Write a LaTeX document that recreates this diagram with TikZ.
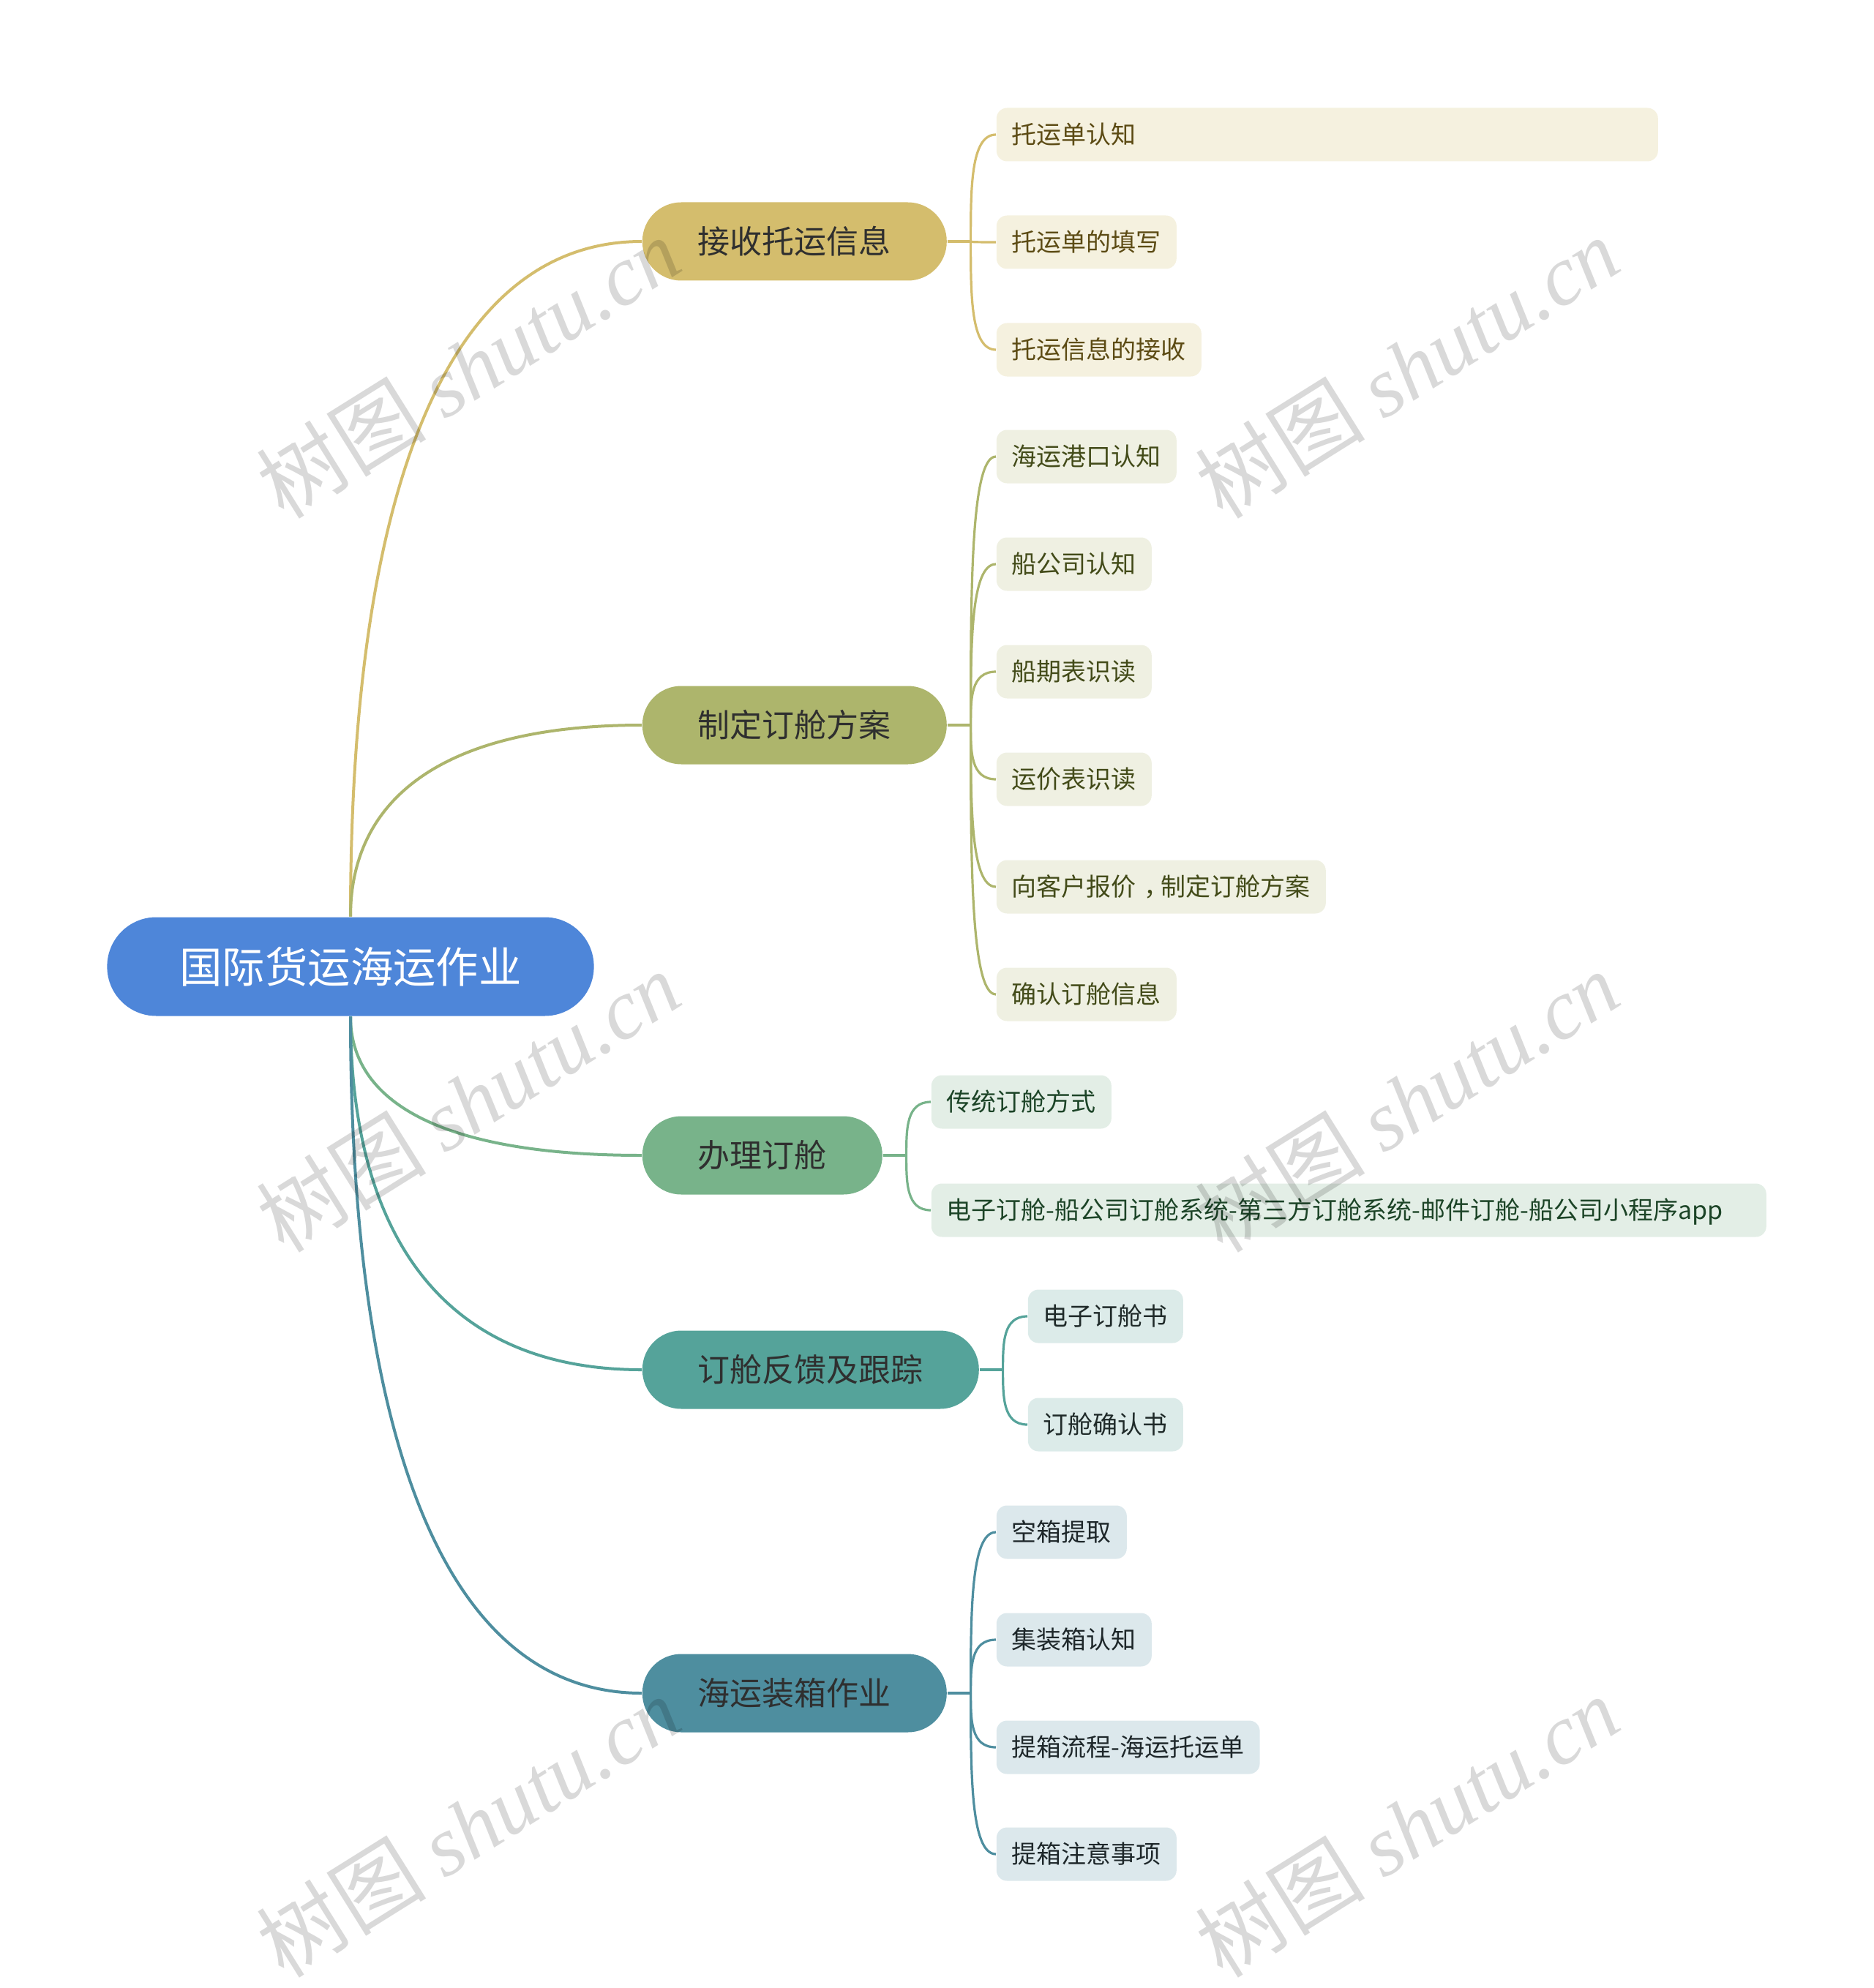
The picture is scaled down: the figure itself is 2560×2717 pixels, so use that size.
\documentclass[tikz,border=0pt]{standalone}
\usepackage{fontspec}
\setmainfont{Noto Sans CJK SC}
\newfontfamily\wmfont{Liberation Serif}
\usetikzlibrary{calc,backgrounds}
\definecolor{rootc}{HTML}{4E86D9}
\definecolor{c1}{HTML}{D4BD6D}
\definecolor{c2}{HTML}{ADB56C}
\definecolor{c3}{HTML}{78B38A}
\definecolor{c4}{HTML}{55A39A}
\definecolor{c5}{HTML}{4E8E9F}
\definecolor{f1}{HTML}{F5F1DF}
\definecolor{f2}{HTML}{EFF0E2}
\definecolor{f3}{HTML}{E3EEE6}
\definecolor{f4}{HTML}{DCEBE9}
\definecolor{f5}{HTML}{DCE8EC}
\definecolor{t1}{HTML}{5C4B14}
\definecolor{t2}{HTML}{434B19}
\definecolor{t3}{HTML}{1C4427}
\definecolor{t4}{HTML}{1F2A29}
\definecolor{t5}{HTML}{1E272A}
\definecolor{maintext}{HTML}{2F2F2F}
\begin{document}
\begin{tikzpicture}[x=0.25pt,y=-0.25pt,
  rootnode/.style={fill=rootc, text=white, rounded corners=16.8pt, minimum height=33.75pt,
    inner xsep=24.75pt, inner ysep=0pt, font=\fontsize{14.6pt}{14.6pt}\selectfont,
    text height=12.85pt, text depth=1.75pt},
  mainnode/.style={rounded corners=13.3pt, minimum height=26.75pt, inner xsep=19pt, inner ysep=0pt,
    font=\fontsize{11pt}{11pt}\selectfont, text=maintext, text height=9.68pt, text depth=1.32pt, anchor=west},
  leafnode/.style={rounded corners=3.6pt, minimum height=18.25pt, inner xsep=5.25pt, inner ysep=0pt,
    font=\fontsize{8.5pt}{8.5pt}\selectfont, text height=7.48pt, text depth=1.02pt, anchor=west},
  rootlink/.style={line width=1pt},
  leaflink/.style={line width=0.8pt},
  watermark/.style={rotate=32, text=black, opacity=0.15, font=\fontsize{29pt}{29pt}\selectfont}
]
\useasboundingbox (0,0) rectangle (2560,2717);

% root and main branches
\node[rootnode] (root) at (479,1321) {国际货运海运作业};
\node[mainnode, fill=c1] (b1) at (877,330) {接收托运信息};
\node[mainnode, fill=c2] (b2) at (877,991) {制定订舱方案};
\node[mainnode, fill=c3] (b3) at (877,1579) {办理订舱};
\node[mainnode, fill=c4] (b4) at (877,1872) {订舱反馈及跟踪};
\node[mainnode, fill=c5] (b5) at (877,2314) {海运装箱作业};

% leaves of branch 1
\node[leafnode, fill=f1, text=t1, text width=215.5pt, align=left] (l11) at (1361,184) {托运单认知};
\node[leafnode, fill=f1, text=t1] (l12) at (1361,331) {托运单的填写};
\node[leafnode, fill=f1, text=t1] (l13) at (1361,478) {托运信息的接收};

% leaves of branch 2
\node[leafnode, fill=f2, text=t2] (l21) at (1361,624) {海运港口认知};
\node[leafnode, fill=f2, text=t2] (l22) at (1361,771) {船公司认知};
\node[leafnode, fill=f2, text=t2] (l23) at (1361,918) {船期表识读};
\node[leafnode, fill=f2, text=t2] (l24) at (1361,1065) {运价表识读};
\node[leafnode, fill=f2, text=t2] (l25) at (1361,1212) {向客户报价\hspace{0.3em}，\hspace{-0.3em}制定订舱方案};
\node[leafnode, fill=f2, text=t2] (l26) at (1361,1359) {确认订舱信息};

% leaves of branch 3
\node[leafnode, fill=f3, text=t3] (l31) at (1272,1506) {传统订舱方式};
\node[leafnode, fill=f3, text=t3, text width=274.75pt, align=left] (l32) at (1272,1654) {电子订舱-船公司订舱系统-第三方订舱系统-邮件订舱-船公司小程序app};

% leaves of branch 4
\node[leafnode, fill=f4, text=t4] (l41) at (1404,1799) {电子订舱书};
\node[leafnode, fill=f4, text=t4] (l42) at (1404,1947) {订舱确认书};

% leaves of branch 5
\node[leafnode, fill=f5, text=t5] (l51) at (1361,2094) {空箱提取};
\node[leafnode, fill=f5, text=t5] (l52) at (1361,2241) {集装箱认知};
\node[leafnode, fill=f5, text=t5] (l53) at (1361,2388) {提箱流程-海运托运单};
\node[leafnode, fill=f5, text=t5] (l54) at (1361,2534) {提箱注意事项};

\begin{scope}[on background layer]
  % root to main branches
  \draw[rootlink, c1] (root.north) .. controls +(0,-554) and +(-278,0) .. (b1.west);
  \draw[rootlink, c2] (root.north) .. controls +(0,-157) and +(-278,0) .. (b2.west);
  \draw[rootlink, c3] (root.south) .. controls +(0,115) and +(-278,0) .. (b3.west);
  \draw[rootlink, c4] (root.south) .. controls +(0,290) and +(-278,0) .. (b4.west);
  \draw[rootlink, c5] (root.south) .. controls +(0,556) and +(-278,0) .. (b5.west);

  % trunks
  \foreach \b/\c in {b1/c1, b2/c2, b3/c3, b4/c4, b5/c5} {
    \coordinate (\b t) at ($(\b.east)+(32,0)$);
    \draw[leaflink, \c] (\b.east) -- (\b t);
  }
  \foreach \l in {l11,l12,l13}
    \draw[leaflink, c1] (b1t) .. controls ($(b1t)!0.5!(b1t|-\l.west)$) and (b1t|-\l.west) .. (\l.west);
  \foreach \l in {l21,l22,l23,l24,l25,l26}
    \draw[leaflink, c2] (b2t) .. controls ($(b2t)!0.5!(b2t|-\l.west)$) and (b2t|-\l.west) .. (\l.west);
  \foreach \l in {l31,l32}
    \draw[leaflink, c3] (b3t) .. controls ($(b3t)!0.5!(b3t|-\l.west)$) and (b3t|-\l.west) .. (\l.west);
  \foreach \l in {l41,l42}
    \draw[leaflink, c4] (b4t) .. controls ($(b4t)!0.5!(b4t|-\l.west)$) and (b4t|-\l.west) .. (\l.west);
  \foreach \l in {l51,l52,l53,l54}
    \draw[leaflink, c5] (b5t) .. controls ($(b5t)!0.5!(b5t|-\l.west)$) and (b5t|-\l.west) .. (\l.west);
\end{scope}

% watermarks
\node[watermark] (w1) at (640,502) {树图 {\wmfont\itshape shutu.cn}};
\node[watermark] (w2) at (1923,502) {树图 {\wmfont\itshape shutu.cn}};
\node[watermark] (w3) at (640,1505) {树图 {\wmfont\itshape shutu.cn}};
\node[watermark] (w4) at (1923,1505) {树图 {\wmfont\itshape shutu.cn}};
\node[watermark] (w5) at (640,2496) {树图 {\wmfont\itshape shutu.cn}};
\node[watermark] (w6) at (1923,2496) {树图 {\wmfont\itshape shutu.cn}};
\end{tikzpicture}
\end{document}
